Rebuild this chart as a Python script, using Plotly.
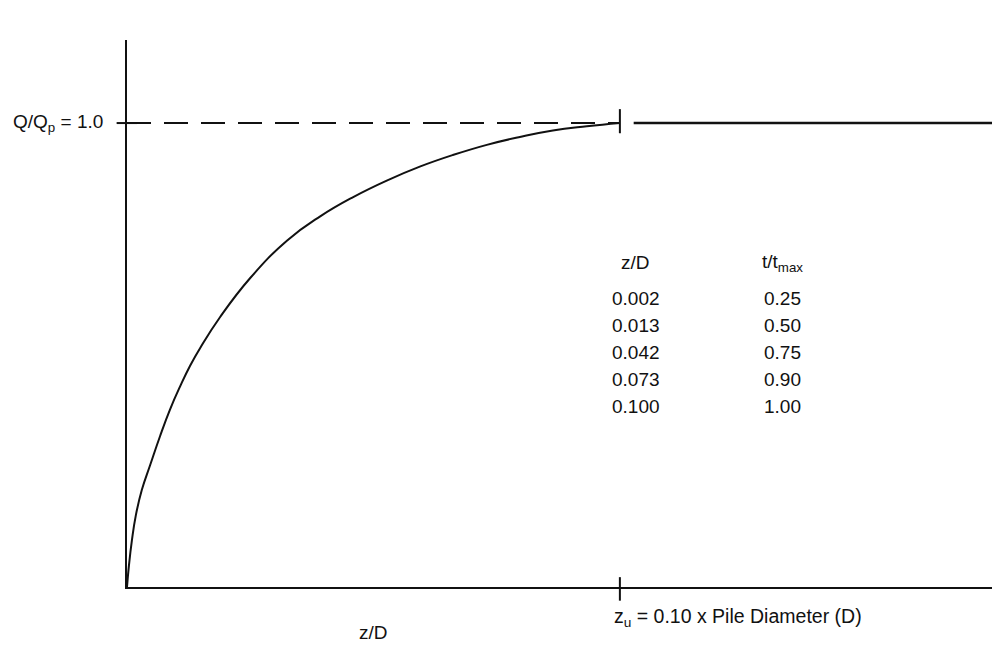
import plotly.graph_objects as go

# Normalised Q-z (tip load - displacement) curve, traced as drawn
curve_z = [0.0, 0.0004, 0.0010, 0.0018, 0.0030, 0.0047, 0.0067, 0.0087,
           0.0108, 0.0128, 0.0150, 0.0189, 0.0250, 0.0325, 0.0392, 0.0458,
           0.0527, 0.0594, 0.0661, 0.0730, 0.0797, 0.0864, 0.0933, 0.1000]
curve_q = [0.0, 0.047, 0.101, 0.155, 0.209, 0.263, 0.325, 0.382,
           0.433, 0.477, 0.518, 0.582, 0.666, 0.747, 0.799, 0.840,
           0.876, 0.906, 0.931, 0.953, 0.970, 0.984, 0.993, 1.000]

# Table printed beside the curve
table_z = ["0.002", "0.013", "0.042", "0.073", "0.100"]
table_t = ["0.25", "0.50", "0.75", "0.90", "1.00"]

X_MAX = 0.1755
Y_MAX = 1.179
Z_U = 0.10
Q_P = 1.0

INK = "#111111"
FONT = "Liberation Sans, Arial, sans-serif"

fig = go.Figure()

# the curve
fig.add_trace(go.Scatter(
    x=curve_z, y=curve_q, mode="lines",
    line=dict(color=INK, width=2, shape="spline", smoothing=1.3),
    hoverinfo="skip", showlegend=False,
))

# dashed reference level up to z_u
fig.add_trace(go.Scatter(
    x=[0, Z_U], y=[Q_P, Q_P], mode="lines",
    line=dict(color=INK, width=2, dash="24px,13px"),
    hoverinfo="skip", showlegend=False,
))

# constant plateau beyond z_u
fig.add_trace(go.Scatter(
    x=[0.1028, X_MAX], y=[Q_P, Q_P], mode="lines",
    line=dict(color=INK, width=2.5),
    hoverinfo="skip", showlegend=False,
))

shapes = [
    # tick across the x axis at z_u
    dict(type="line", xref="x", yref="paper", x0=Z_U, x1=Z_U, y0=-0.025, y1=0.018,
         line=dict(color=INK, width=2)),
    # tick across the plateau at z_u
    dict(type="line", xref="x", yref="y", x0=Z_U, x1=Z_U, y0=Q_P - 0.022, y1=Q_P + 0.03,
         line=dict(color=INK, width=2)),
    # tick across the y axis at Q/Qp = 1
    dict(type="line", xref="paper", yref="y", x0=-0.012, x1=0.012, y0=Q_P, y1=Q_P,
         line=dict(color=INK, width=2)),
]

annotations = [
    dict(text="Q/Q<sub>p</sub> = 1.0", xref="paper", yref="y", x=-0.026, y=Q_P,
         xanchor="right", yanchor="middle", showarrow=False),
    dict(text="z/D", xref="x", yref="paper", x=0.0500, y=-0.083,
         xanchor="center", yanchor="middle", showarrow=False),
    dict(text="z<sub>u</sub> = 0.10 x Pile Diameter (D)", xref="x", yref="paper",
         x=0.0985, y=-0.055, xanchor="left", yanchor="middle", showarrow=False,
         font=dict(size=19.5)),
    dict(text="z/D", xref="x", yref="y", x=0.1032, y=0.699,
         xanchor="center", yanchor="middle", showarrow=False),
    dict(text="t/t<sub>max</sub>", xref="x", yref="y", x=0.1330, y=0.699,
         xanchor="center", yanchor="middle", showarrow=False),
]

row_y = [0.621, 0.563, 0.506, 0.448, 0.390]
for ty, zv, tv in zip(row_y, table_z, table_t):
    annotations.append(dict(text=zv, xref="x", yref="y", x=0.1032, y=ty,
                            xanchor="center", yanchor="middle", showarrow=False))
    annotations.append(dict(text=tv, xref="x", yref="y", x=0.1330, y=ty,
                            xanchor="center", yanchor="middle", showarrow=False))

fig.update_layout(
    width=992, height=646,
    margin=dict(l=127, r=0, t=40, b=59),
    paper_bgcolor="white", plot_bgcolor="white",
    font=dict(family=FONT, size=19, color=INK),
    shapes=shapes, annotations=annotations,
    xaxis=dict(range=[0, X_MAX], showgrid=False, zeroline=False, showticklabels=False,
               ticks="", showline=True, linecolor=INK, linewidth=2, fixedrange=True),
    yaxis=dict(range=[0, Y_MAX], showgrid=False, zeroline=False, showticklabels=False,
               ticks="", showline=True, linecolor=INK, linewidth=2, fixedrange=True),
)

fig.write_html("out.html")
